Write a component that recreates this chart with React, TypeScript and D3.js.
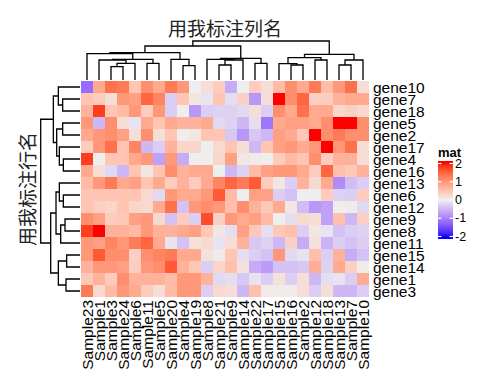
import React, { useEffect } from "react";
import * as d3 from "d3";

const colLabels = [
  "Sample23", "Sample1", "Sample3", "Sample24", "Sample6", "Sample11", "Sample5", "Sample20",
  "Sample4", "Sample19", "Sample8", "Sample21", "Sample9", "Sample14", "Sample22", "Sample17",
  "Sample15", "Sample16", "Sample2", "Sample12", "Sample18", "Sample13", "Sample7", "Sample10",
];
const rowLabels = [
  "gene10", "gene7", "gene18", "gene5", "gene2", "gene17", "gene4", "gene16", "gene13",
  "gene6", "gene12", "gene9", "gene8", "gene11", "gene15", "gene14", "gene1", "gene3",
];
const heatValues: number[][] = [
  [-1.2, 0.8, 1.4, 1.3, 0.5, 1.1, 0.8, 1.3, 1.0, 0.0, 0.2, 0.4, -0.6, 0.0, 0.4, 0.2, 0.6, 1.1, 0.8, 1.3, 0.6, 1.0, 1.4, 0.2],
  [0.5, 0.4, 0.2, 1.0, 0.9, 1.5, 1.2, -0.3, 0.5, 0.1, -0.1, 0.5, -0.15, 0.35, -0.8, 0.2, 2.2, 1.1, 1.5, 0.35, 0.4, 0.7, 0.8, 0.8],
  [0.7, 1.8, 0.5, 0.6, 1.0, 0.4, 1.0, -0.3, 0.0, -0.8, -0.3, -0.25, -0.25, -0.2, 0.2, -0.3, 1.1, 0.8, 1.4, 0.8, 0.8, 0.3, 0.35, 0.25],
  [1.0, -0.5, 1.1, 0.2, -0.1, 0.8, 0.5, 0.8, 0.7, 0.7, 0.8, -0.2, -0.25, -0.5, -0.15, -1.1, 0.8, 0.9, 0.9, 0.8, 1.1, 2.2, 2.2, 1.1],
  [0.8, 1.0, 1.1, 0.9, 0.2, 1.1, 0.2, 0.5, 0.0, 0.1, 0.5, 0.5, -0.35, -0.8, -0.35, -0.5, 0.9, 0.8, 0.45, 2.2, 1.1, 1.3, 1.1, 1.1],
  [0.4, 1.0, 1.4, 0.5, 1.2, -0.5, -0.3, 0.7, 0.3, 0.3, 0.0, 0.25, 0.5, 0.2, -0.5, 0.5, 0.9, 1.0, 0.8, 1.0, 2.2, 1.0, 1.4, 0.2],
  [1.8, 0.0, 0.5, 0.5, 0.8, 1.0, -0.7, 1.0, -0.6, 0.0, 0.0, 0.3, 0.9, 0.1, 0.05, 0.0, 0.4, 0.6, 0.5, 1.1, 0.4, 0.7, 0.7, 0.2],
  [0.8, 0.2, -0.2, -0.5, 0.5, 0.1, 0.5, 1.1, 0.7, 0.8, 0.8, 0.0, -0.5, -0.25, 0.6, 0.9, 1.0, 1.0, 0.8, 0.4, 1.5, 0.55, 0.45, 0.7],
  [0.6, 1.0, 1.3, 0.8, 0.9, 0.5, 0.8, 0.4, 0.7, 0.4, 0.8, 1.2, 1.5, 1.3, 1.6, 0.4, 0.1, -0.3, 0.7, 0.25, 0.8, -0.9, -0.45, -0.3],
  [0.5, 0.5, 0.5, 0.5, 0.5, 0.25, -0.2, 1.0, 0.8, 0.8, 1.0, 1.6, 0.6, 0.0, 0.9, 0.9, -0.3, -0.4, 0.0, 0.0, 0.4, -0.25, -0.3, 0.4],
  [0.5, 0.35, 0.3, 0.5, 0.3, 0.25, 0.8, 1.4, -0.4, 1.0, 1.1, 1.0, 0.55, 1.1, 0.7, 0.45, 0.8, 0.1, -0.45, -0.8, -0.7, 0.0, 0.05, -0.2],
  [1.1, 0.9, 0.4, 0.45, 0.9, 1.0, 0.25, -0.4, 0.4, -0.3, 1.7, 0.35, 1.0, 0.8, 0.9, 0.6, 0.0, -0.15, 0.25, 0.2, -0.7, 0.55, -0.5, 0.35],
  [1.8, 2.2, 0.7, 0.7, 0.6, 1.0, 0.7, 0.7, 0.8, 0.9, 0.45, 0.1, -0.15, 0.9, 0.45, -0.15, 0.45, 0.55, -0.3, 0.1, -0.1, -0.4, -0.3, -0.25],
  [1.0, 0.9, 1.2, 1.0, 1.3, 1.5, 0.8, -0.1, -0.4, 0.15, 0.25, -0.1, 0.2, 0.7, -0.35, -0.25, -0.5, 0.35, -0.6, 0.15, -0.55, -0.3, -0.4, -0.3],
  [1.0, 1.6, 1.1, 1.1, 0.35, 1.1, 1.2, 1.3, 0.8, 0.8, 0.15, 0.05, 0.5, -0.15, -0.3, -0.4, 1.0, -0.2, -0.1, 0.55, -0.3, 0.7, -0.6, -0.4],
  [0.7, 1.0, 1.0, 0.9, 0.4, 1.0, 1.1, 1.6, 0.7, 0.45, -0.3, 0.3, 0.55, 0.15, -0.6, -0.75, -0.4, -0.4, -0.35, 0.75, -0.25, 0.8, 0.35, 0.05],
  [0.45, 0.7, 0.4, 1.1, 0.7, 0.7, 0.7, 0.6, 1.0, 1.0, 0.7, -0.2, -0.15, -0.35, -0.1, -0.3, 0.15, -0.3, 0.2, -0.5, -0.15, -0.1, -0.3, 0.75],
  [1.3, 0.25, 0.6, 1.0, 0.8, 0.4, 0.2, 0.6, 1.0, 1.0, -0.3, 0.25, 0.2, -0.5, 0.55, 0.05, 0.05, 0.05, 0.2, -0.3, 0.2, -0.5, -0.5, -0.3],
];

// hclust-style merges: negative = leaf (1-based display position), positive = earlier merge (1-based); third = height
const colMerge: [number, number, number][] = [
  [-3, -4, 40], [-9, -10, 43], [-12, -13, 45], [-18, -19, 45], [-22, -23, 45],
  [-17, 4, 49], [1, -5, 50], [-6, -7, 50], [-15, -16, 50], [-2, 7, 60],
  [3, -14, 60], [-20, -21, 60], [5, -24, 60], [10, 8, 62], [-8, 2, 62],
  [-11, 11, 62], [16, 9, 65], [6, 12, 67], [18, 13, 77], [-1, 14, 79],
  [20, 15, 82], [21, 17, 102], [22, 19, 117],
];
const rowMerge: [number, number, number][] = [
  [-15, -16, 40], [-17, -18, 42], [-12, -13, 45], [-2, -3, 52], [-4, -5, 52],
  [-7, -8, 50], [-10, -11, 50], [3, -14, 58], [-6, 6, 62], [-9, 7, 62],
  [-1, 4, 65], [1, 2, 65], [5, 9, 70], [10, 8, 72], [11, 13, 80],
  [14, 12, 88], [15, 16, 118],
];

const legendBreaks = [2, 1, 0, -1, -2];
const colorStops = [-2, 0, 2];
const colorValues = ["blue", "#EEEEEE", "red"];

const colTitle = "用我标注列名";
const rowTitle = "用我标注行名";
const legendTitle = "mat";

const W = 480, H = 384;
const hmLeft = 81, hmRight = 369, hmTop = 81, hmBottom = 297;
const labelFont = "'Liberation Sans', Arial, sans-serif";
const cjkFont = "'Noto Sans CJK SC', 'Noto Sans CJK JP', sans-serif";

function dendroPaths(
  merges: [number, number, number][],
  leafPos: (i: number) => number,
  hScale: (h: number) => number,
  vertical: boolean
): string[] {
  const nodes: { pos: number; h: number }[] = [];
  const get = (id: number) => (id < 0 ? { pos: leafPos(-id - 1), h: 0 } : nodes[id - 1]);
  const paths: string[] = [];
  merges.forEach(([a, b, h]) => {
    const A = get(a), B = get(b);
    const hh = hScale(h);
    if (vertical) {
      paths.push(`M${A.pos},${hScale(A.h)}V${hh}H${B.pos}V${hScale(B.h)}`);
    } else {
      paths.push(`M${hScale(A.h)},${A.pos}H${hh}V${B.pos}H${hScale(B.h)}`);
    }
    nodes.push({ pos: (A.pos + B.pos) / 2, h });
  });
  return paths;
}

export default function App() {
  useEffect(() => {
    document.body.style.margin = "0";
  }, []);

  const x = d3.scaleBand<string>().domain(colLabels).range([hmLeft, hmRight]);
  const y = d3.scaleBand<string>().domain(rowLabels).range([hmTop, hmBottom]);
  const color = d3
    .scaleLinear<string>()
    .domain(colorStops)
    .range(colorValues)
    .interpolate(d3.interpolateLab)
    .clamp(true);

  const colMax = d3.max(colMerge, (d) => d[2]) as number;
  const rowMax = d3.max(rowMerge, (d) => d[2]) as number;
  const colH = d3.scaleLinear().domain([0, colMax]).range([80, 41]);
  const rowH = d3.scaleLinear().domain([0, rowMax]).range([80, 40.7]);

  const colPaths = dendroPaths(colMerge, (i) => (x(colLabels[i]) as number) + x.bandwidth() / 2, colH, true);
  const rowPaths = dendroPaths(rowMerge, (i) => (y(rowLabels[i]) as number) + y.bandwidth() / 2, rowH, false);

  // legend
  const lgX = 438, lgW = 15, lgTop = 161, lgBottom = 239;
  const lgScale = d3.scaleLinear().domain([2, -2]).range([163.5, 236.5]);
  const gradStops = d3.range(0, 41).map((i) => {
    const yy = lgTop + ((lgBottom - lgTop) * i) / 40;
    const v = lgScale.invert(yy);
    return { offset: i / 40, c: color(v) };
  });

  return (
    <svg width={W} height={H} style={{ display: "block", position: "absolute", left: 0, top: 0 }} xmlns="http://www.w3.org/2000/svg">
      <rect x={0} y={0} width={W} height={H} fill="white" />
      <defs>
        <linearGradient id="lg" x1="0" y1="0" x2="0" y2="1">
          {gradStops.map((s, i) => (
            <stop key={i} offset={s.offset} stopColor={s.c} />
          ))}
        </linearGradient>
      </defs>

      {/* column title */}
      <text x={(hmLeft + hmRight) / 2} y={27} fontFamily={cjkFont} fontSize={19} textAnchor="middle" dominantBaseline="central" fill="#222">
        {colTitle}
      </text>
      {/* row title */}
      <text
        transform={`translate(26,${(hmTop + hmBottom) / 2}) rotate(-90)`}
        fontFamily={cjkFont}
        fontSize={19}
        textAnchor="middle"
        dominantBaseline="central"
        fill="#222"
      >
        {rowTitle}
      </text>

      {/* dendrograms */}
      <g fill="none" stroke="black" strokeWidth={1.3}>
        {colPaths.map((p, i) => (
          <path key={"c" + i} d={p} />
        ))}
        {rowPaths.map((p, i) => (
          <path key={"r" + i} d={p} />
        ))}
      </g>

      {/* heatmap */}
      <g shapeRendering="crispEdges">
        {heatValues.map((row, ri) =>
          row.map((v, ci) => (
            <rect
              key={ri + "-" + ci}
              x={x(colLabels[ci])}
              y={y(rowLabels[ri])}
              width={x.bandwidth()}
              height={y.bandwidth()}
              fill={color(v)}
            />
          ))
        )}
      </g>

      {/* row labels */}
      {rowLabels.map((r) => (
        <text
          key={r}
          x={hmRight + 4}
          y={(y(r) as number) + y.bandwidth() / 2}
          fontFamily={labelFont}
          fontSize={15.5}
          dominantBaseline="central"
          fill="black"
        >
          {r}
        </text>
      ))}

      {/* column labels */}
      {colLabels.map((c) => (
        <text
          key={c}
          transform={`translate(${(x(c) as number) + x.bandwidth() / 2},${hmBottom + 3}) rotate(-90)`}
          fontFamily={labelFont}
          fontSize={15.5}
          textAnchor="end"
          dominantBaseline="central"
          fill="black"
        >
          {c}
        </text>
      ))}

      {/* legend */}
      <text x={lgX} y={157} fontFamily={labelFont} fontSize={13} fontWeight="bold" fill="black">
        {legendTitle}
      </text>
      <rect x={lgX} y={lgTop} width={lgW} height={lgBottom - lgTop} fill="url(#lg)" />
      {legendBreaks.map((b) => (
        <g key={b}>
          <line x1={lgX} x2={lgX + 3.5} y1={lgScale(b)} y2={lgScale(b)} stroke="white" strokeWidth={1.2} />
          <line x1={lgX + lgW - 3.5} x2={lgX + lgW} y1={lgScale(b)} y2={lgScale(b)} stroke="white" strokeWidth={1.2} />
          <text x={lgX + lgW + 2} y={lgScale(b)} fontFamily={labelFont} fontSize={12.5} dominantBaseline="central" fill="black">
            {b}
          </text>
        </g>
      ))}
    </svg>
  );
}
